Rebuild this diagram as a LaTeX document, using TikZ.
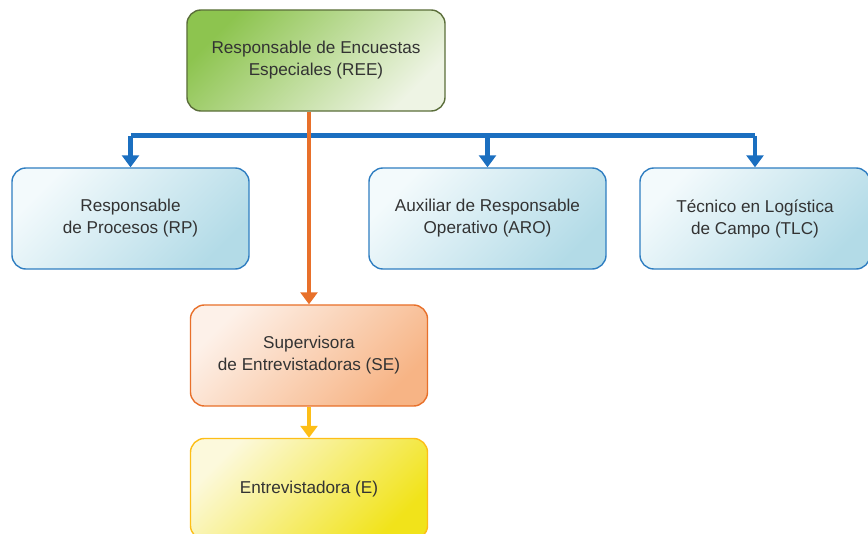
\documentclass[tikz,border=0pt]{standalone}
\usepackage{fontspec}
\setmainfont{Liberation Sans}
\usetikzlibrary{arrows.meta}

\definecolor{reeTop}{HTML}{8DC44F}
\definecolor{reeBot}{HTML}{EEF4E4}
\definecolor{reeLine}{HTML}{5B6E3A}
\definecolor{boxTop}{HTML}{F3FAFC}
\definecolor{boxBot}{HTML}{B3DBE7}
\definecolor{boxLine}{HTML}{2F7EC1}
\definecolor{barBlue}{HTML}{1B6FC0}
\definecolor{seTop}{HTML}{FDF1E9}
\definecolor{seBot}{HTML}{F7B485}
\definecolor{seLine}{HTML}{E8702A}
\definecolor{eTop}{HTML}{FCF9DC}
\definecolor{eBot}{HTML}{F1E31A}
\definecolor{eLine}{HTML}{FDBE17}
\definecolor{txt}{HTML}{333333}

\begin{document}
\begin{tikzpicture}[x=0.025cm, y=-0.025cm,
    unit/.style={rounded corners=0.35cm, line width=1pt, align=center, text=txt,
      font=\fontsize{12.2}{15.6}\selectfont, minimum width=5.925cm, minimum height=2.525cm},
    topunit/.style={unit, draw=reeLine, top color=reeTop, bottom color=reeBot, shading angle=45, minimum width=6.45cm},
    staffunit/.style={unit, draw=boxLine, top color=boxTop, bottom color=boxBot, shading angle=45},
    superunit/.style={unit, draw=seLine, top color=seTop, bottom color=seBot, shading angle=45},
    fieldunit/.style={unit, draw=eLine, top color=eTop, bottom color=eBot, shading angle=45},
    link/.style={line width=3.5pt, -{Triangle[width=12pt, length=8.5pt]}}
  ]
    \useasboundingbox (0,0) rectangle (868,533);

    % Units
    \node[topunit] (REE) at (316, 60.5) {Responsable de Encuestas\\Especiales (REE)};
    \node[staffunit] (RP) at (130.5, 218.5) {Responsable\\de Procesos (RP)};
    \node[staffunit] (ARO) at (487.5, 218.5) {Auxiliar de Responsable\\Operativo (ARO)};
    \node[staffunit, minimum width=5.75cm] (TLC) at (755, 218.5) {Técnico en Logística\\de Campo (TLC)};
    \node[superunit] (SE) at (309, 355.5) {Supervisora\\de Entrevistadoras (SE)};
    \node[fieldunit] (E) at (309, 489) {Entrevistadora (E)};

    % Staff bar
    \coordinate (bar) at (0, 135.5);
    \draw[barBlue, line width=3.5pt] (bar -| RP.north) -- (bar -| TLC.north);
    \foreach \u in {RP, ARO, TLC}
      \draw[link, barBlue] (bar -| \u.north) -- (\u.north);

    % Line of command
    \draw[link, seLine] (REE.south -| SE.north) -- (SE.north);
    \draw[link, eLine] (SE.south) -- (E.north);

\end{tikzpicture}
\end{document}
